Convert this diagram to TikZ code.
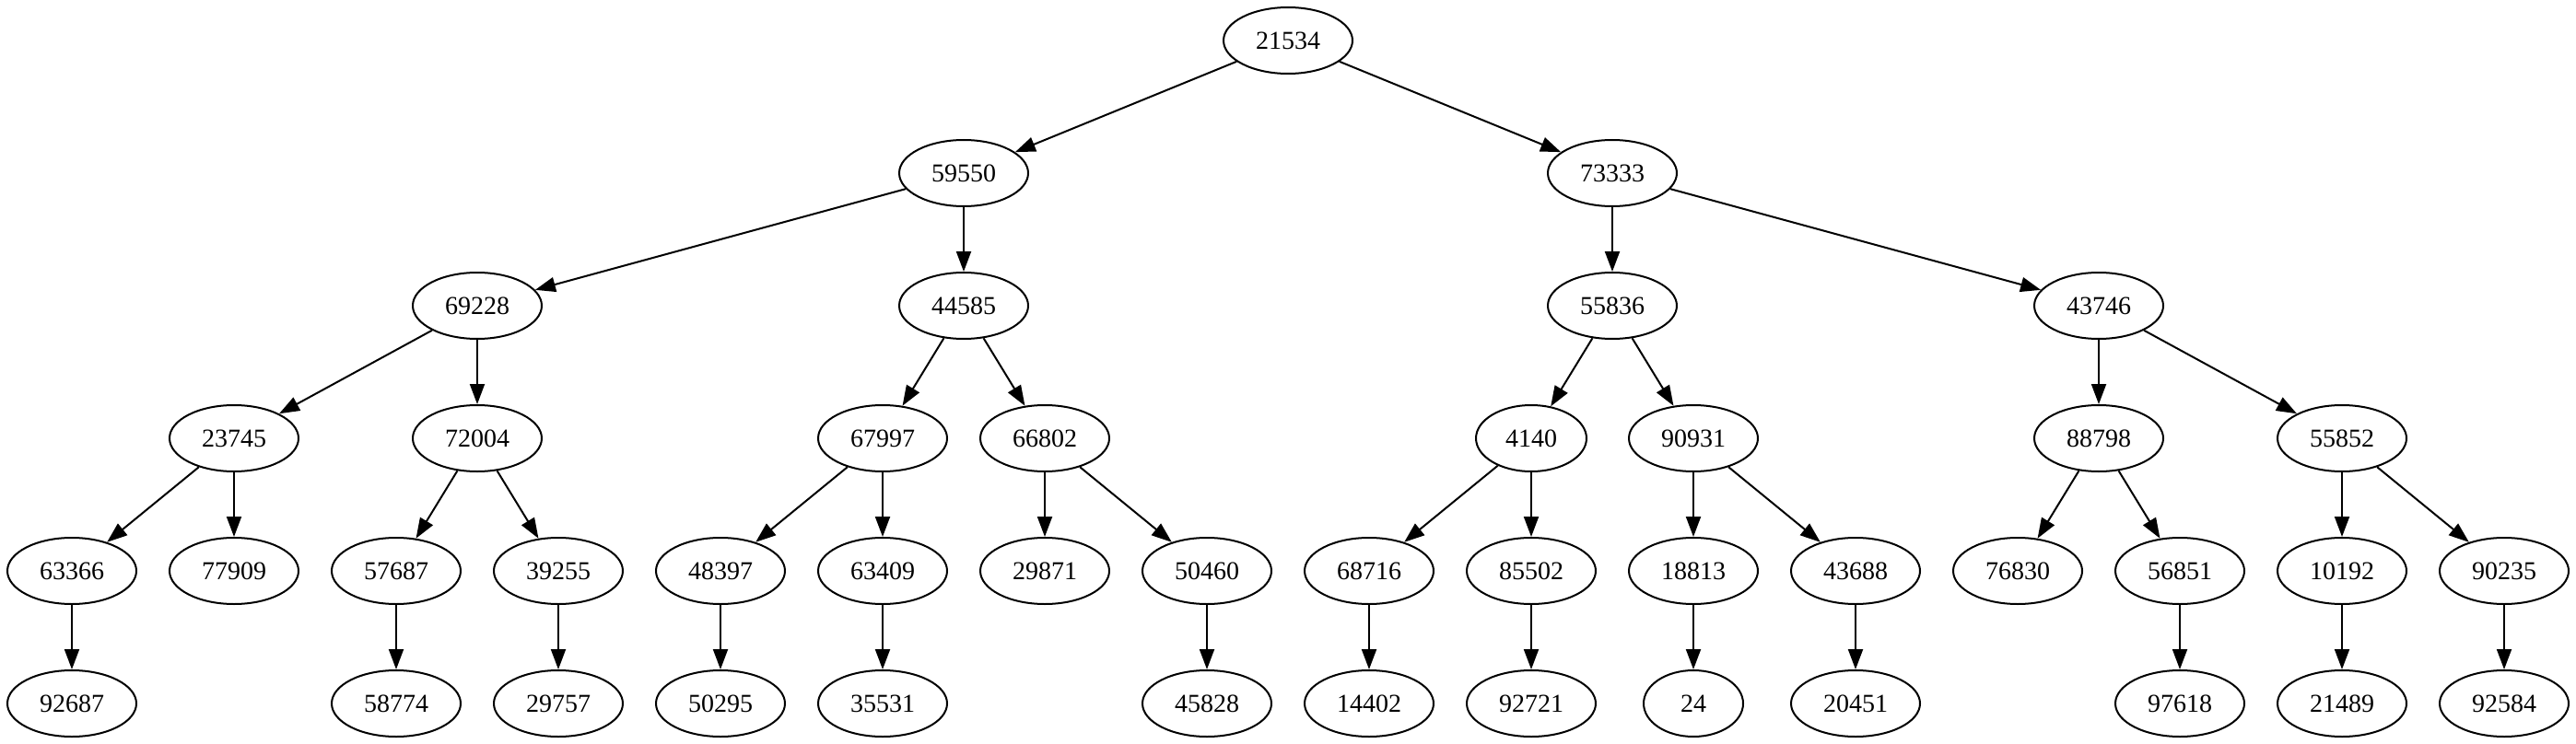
\documentclass[tikz,border=0pt]{standalone}
\usepackage{fontspec}
\setmainfont{Liberation Serif}
\usetikzlibrary{shapes.geometric,arrows.meta}
\begin{document}
\begin{tikzpicture}[x=1pt,y=1pt,
  nd/.style={draw=black,ellipse,line width=1pt,inner sep=0pt,minimum width=70pt,minimum height=36pt,font=\fontsize{14}{16}\selectfont},
  nd4/.style={nd,minimum width=60pt},
  nd2/.style={nd,minimum width=54pt},
  ed/.style={line width=1pt,-{Triangle[length=11pt,width=8pt]}}]
\useasboundingbox (0,0) rectangle (1398,-404);
% row 0
\node[nd] (n21534) at (699,-22) {21534};
% row 1
\node[nd] (n59550) at (523,-94) {59550};
\node[nd] (n73333) at (875,-94) {73333};
% row 2
\node[nd] (n69228) at (259,-166) {69228};
\node[nd] (n44585) at (523,-166) {44585};
\node[nd] (n55836) at (875,-166) {55836};
\node[nd] (n43746) at (1139,-166) {43746};
% row 3
\node[nd] (n23745) at (127,-238) {23745};
\node[nd] (n72004) at (259,-238) {72004};
\node[nd] (n67997) at (479,-238) {67997};
\node[nd] (n66802) at (567,-238) {66802};
\node[nd4] (n4140) at (831,-238) {4140};
\node[nd] (n90931) at (919,-238) {90931};
\node[nd] (n88798) at (1139,-238) {88798};
\node[nd] (n55852) at (1271,-238) {55852};
% row 4
\node[nd] (n63366) at (39,-310) {63366};
\node[nd] (n77909) at (127,-310) {77909};
\node[nd] (n57687) at (215,-310) {57687};
\node[nd] (n39255) at (303,-310) {39255};
\node[nd] (n48397) at (391,-310) {48397};
\node[nd] (n63409) at (479,-310) {63409};
\node[nd] (n29871) at (567,-310) {29871};
\node[nd] (n50460) at (655,-310) {50460};
\node[nd] (n68716) at (743,-310) {68716};
\node[nd] (n85502) at (831,-310) {85502};
\node[nd] (n18813) at (919,-310) {18813};
\node[nd] (n43688) at (1007,-310) {43688};
\node[nd] (n76830) at (1095,-310) {76830};
\node[nd] (n56851) at (1183,-310) {56851};
\node[nd] (n10192) at (1271,-310) {10192};
\node[nd] (n90235) at (1359,-310) {90235};
% row 5
\node[nd] (n92687) at (39,-382) {92687};
\node[nd] (n58774) at (215,-382) {58774};
\node[nd] (n29757) at (303,-382) {29757};
\node[nd] (n50295) at (391,-382) {50295};
\node[nd] (n35531) at (479,-382) {35531};
\node[nd] (n45828) at (655,-382) {45828};
\node[nd] (n14402) at (743,-382) {14402};
\node[nd] (n92721) at (831,-382) {92721};
\node[nd2] (n24) at (919,-382) {24};
\node[nd] (n20451) at (1007,-382) {20451};
\node[nd] (n97618) at (1183,-382) {97618};
\node[nd] (n21489) at (1271,-382) {21489};
\node[nd] (n92584) at (1359,-382) {92584};
% edges
\draw[ed] (n21534) -- (n59550);
\draw[ed] (n21534) -- (n73333);
\draw[ed] (n59550) -- (n69228);
\draw[ed] (n59550) -- (n44585);
\draw[ed] (n73333) -- (n55836);
\draw[ed] (n73333) -- (n43746);
\draw[ed] (n69228) -- (n23745);
\draw[ed] (n69228) -- (n72004);
\draw[ed] (n44585) -- (n67997);
\draw[ed] (n44585) -- (n66802);
\draw[ed] (n55836) -- (n4140);
\draw[ed] (n55836) -- (n90931);
\draw[ed] (n43746) -- (n88798);
\draw[ed] (n43746) -- (n55852);
\draw[ed] (n23745) -- (n63366);
\draw[ed] (n23745) -- (n77909);
\draw[ed] (n72004) -- (n57687);
\draw[ed] (n72004) -- (n39255);
\draw[ed] (n67997) -- (n48397);
\draw[ed] (n67997) -- (n63409);
\draw[ed] (n66802) -- (n29871);
\draw[ed] (n66802) -- (n50460);
\draw[ed] (n4140) -- (n68716);
\draw[ed] (n4140) -- (n85502);
\draw[ed] (n90931) -- (n18813);
\draw[ed] (n90931) -- (n43688);
\draw[ed] (n88798) -- (n76830);
\draw[ed] (n88798) -- (n56851);
\draw[ed] (n55852) -- (n10192);
\draw[ed] (n55852) -- (n90235);
\draw[ed] (n63366) -- (n92687);
\draw[ed] (n57687) -- (n58774);
\draw[ed] (n39255) -- (n29757);
\draw[ed] (n48397) -- (n50295);
\draw[ed] (n63409) -- (n35531);
\draw[ed] (n50460) -- (n45828);
\draw[ed] (n68716) -- (n14402);
\draw[ed] (n85502) -- (n92721);
\draw[ed] (n18813) -- (n24);
\draw[ed] (n43688) -- (n20451);
\draw[ed] (n56851) -- (n97618);
\draw[ed] (n10192) -- (n21489);
\draw[ed] (n90235) -- (n92584);
\end{tikzpicture}
\end{document}
